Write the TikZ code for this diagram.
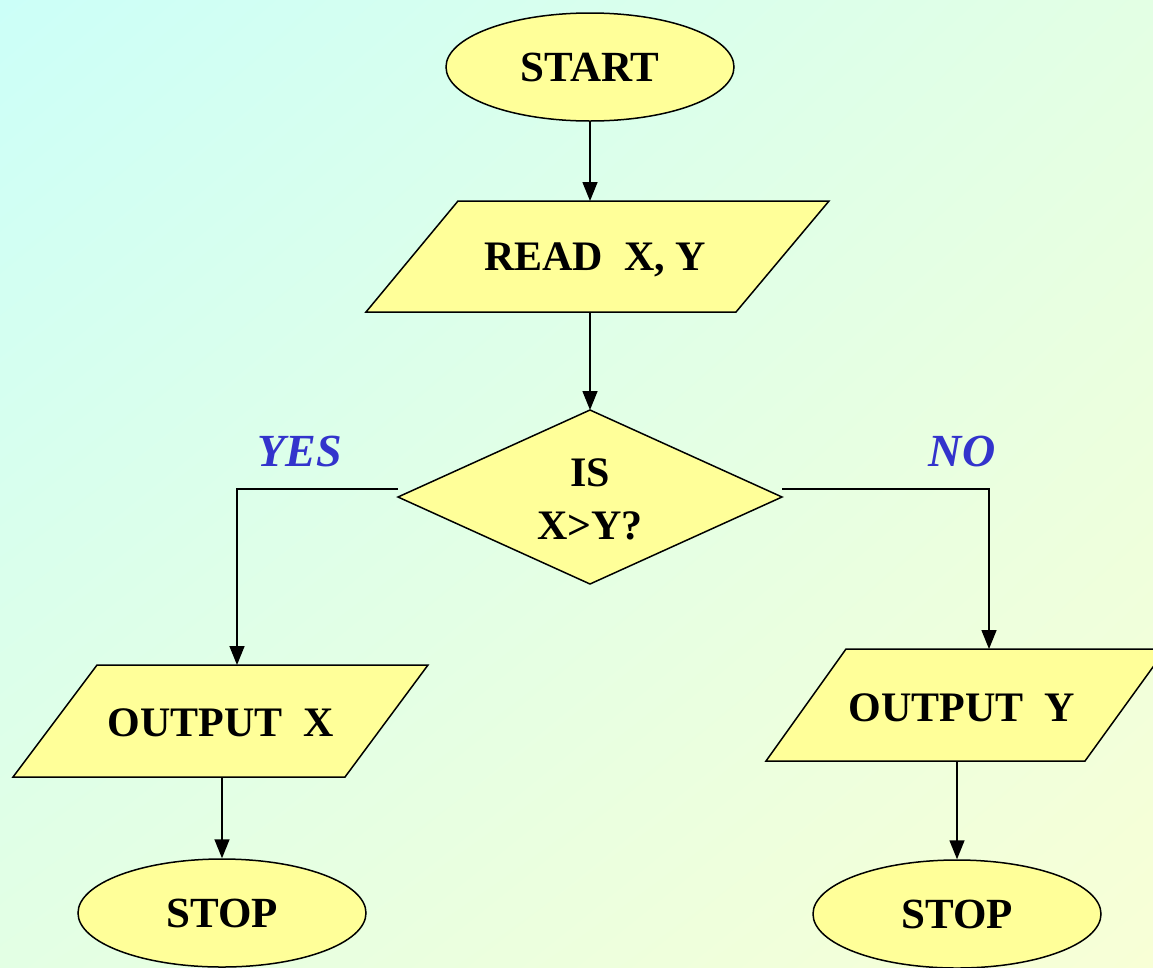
\documentclass[tikz,border=0pt]{standalone}
\usepackage{fontspec}
\setmainfont{Liberation Serif}
\usetikzlibrary{arrows.meta,shapes.geometric,shadings}
\definecolor{bgA}{HTML}{CCFFF8}
\definecolor{bgB}{HTML}{F8FFD6}
\definecolor{bgM}{HTML}{E3FFE4}
\definecolor{boxfill}{HTML}{FFFF99}
\definecolor{lblue}{HTML}{3333CC}
\begin{document}
\begin{tikzpicture}[x=1pt,y=-1pt,
  shp/.style={draw=black, fill=boxfill, line width=1.5pt},
  term/.style={shp, ellipse, inner sep=0pt, minimum width=288pt, minimum height=108pt,
    font=\fontsize{43}{50}\selectfont\bfseries},
  lbl/.style={font=\fontsize{42}{53}\selectfont\bfseries, align=center, inner sep=0pt},
  ans/.style={font=\fontsize{46}{50}\selectfont\bfseries\itshape, text=lblue, inner sep=0pt},
  conn/.style={line width=1.5pt, -{Triangle[length=19pt,width=15pt]}},
  wire/.style={line width=1.5pt}]
% background
\shade[upper left=bgA, lower right=bgB, upper right=bgM, lower left=bgM] (0,0) rectangle (1153,967);
\useasboundingbox (0,0) rectangle (1153,967);

% START
\node[term] (start) at (590,67) {START};

% READ X, Y
\coordinate (readN) at (590,201);
\coordinate (readS) at (590,312);
\draw[shp] (458,201) -- (829,201) -- (736,312) -- (366,312) -- cycle;
\node[lbl] (read) at (595,260) {READ\ \ X, Y};

% decision
\coordinate (decN) at (590,410);
\coordinate (decW) at (398,489);
\coordinate (decE) at (782,489);
\draw[shp] (590,410) -- (782,497) -- (590,584) -- (398,497) -- cycle;
\node[lbl] (dec) at (590,499) {IS\\X>Y?};

% OUTPUT X
\coordinate (outxN) at (237,665);
\coordinate (outxS) at (222,777);
\draw[shp] (97,665) -- (428,665) -- (345,777) -- (13,777) -- cycle;
\node[lbl] (outx) at (221,723) {OUTPUT\ \ X};

% OUTPUT Y
\coordinate (outyN) at (989,649);
\coordinate (outyS) at (957,761);
\draw[shp] (846,649) -- (1166,649) -- (1085,761) -- (766,761) -- cycle;
\node[lbl] (outy) at (962,708) {OUTPUT\ \ Y};

% STOP
\node[term] (stopx) at (222,913) {STOP};
\node[term] (stopy) at (957,914) {STOP};

% labels
\node[ans] (yes) at (300,451) {YES};
\node[ans] (no) at (962,451) {NO};

% connectors
\draw[conn] (start.south) -- (readN);
\draw[conn] (readS) -- (decN);
\draw[conn] (decW) -- (237,489) -- (outxN);
\draw[conn] (decE) -- (989,489) -- (outyN);
\draw[conn] (outxS) -- (stopx.north);
\draw[conn] (outyS) -- (stopy.north);
\end{tikzpicture}
\end{document}
